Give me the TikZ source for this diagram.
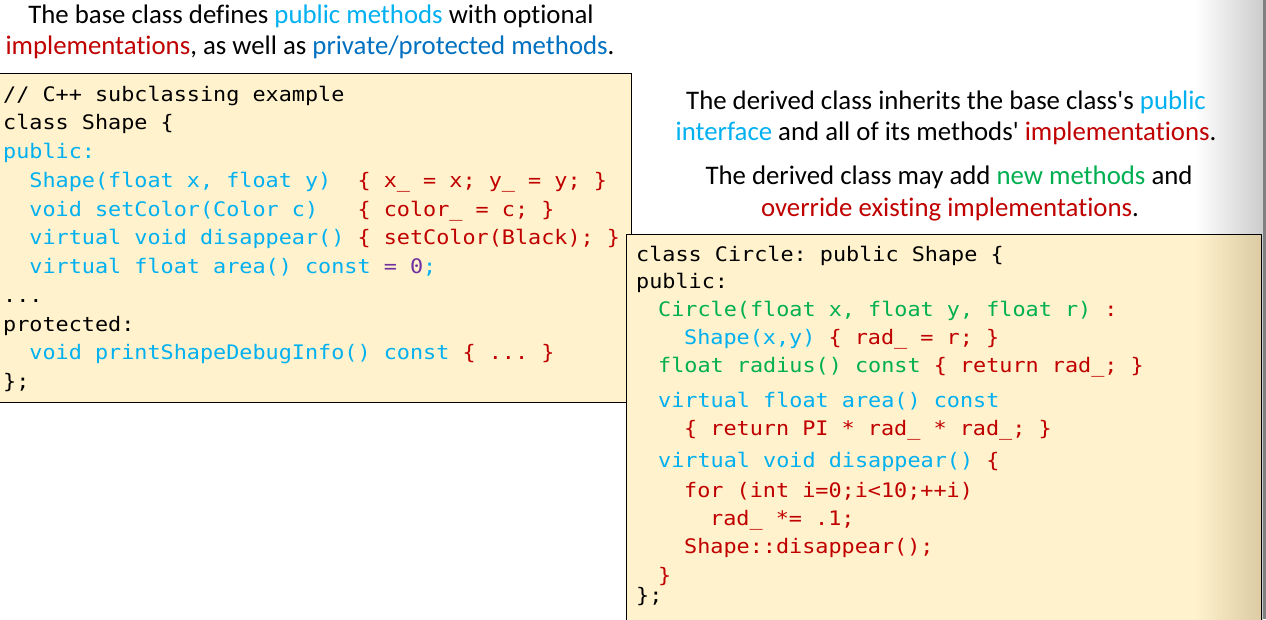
\documentclass[tikz,border=0pt]{standalone}
\usepackage{fontspec}
\newfontfamily\prosefont{Carlito}[Ligatures=NoCommon]
\newfontfamily\codefont{DejaVu Sans Mono}[FakeStretch=1.09]
\definecolor{cyanc}{HTML}{00B0F0}
\definecolor{redc}{HTML}{C00000}
\definecolor{greenc}{HTML}{00B050}
\definecolor{bluec}{HTML}{0070C0}
\definecolor{purplec}{HTML}{7030A0}
\definecolor{codebg}{HTML}{FFF2CC}
\definecolor{codebgdark}{HTML}{DCCBA5}
\tikzset{
  prose/.style={inner sep=0pt, align=center, font=\prosefont\fontsize{26.8}{31}\selectfont\frenchspacing},
  codeline/.style={inner sep=0pt, anchor=base west, font=\codefont\fontsize{20}{24}\selectfont\frenchspacing},
  codebox/.style={draw=black, line width=0.8pt, fill=codebg, rectangle, inner sep=0pt},
}
\begin{document}
\begin{tikzpicture}[x=1pt,y=-1pt]
\useasboundingbox (0,0) rectangle (1266,619);
\clip (0,0) rectangle (1266,619);
\fill[white] (0,0) rectangle (1266,619);
\shade[left color=white, right color=black!20] (1195,0) rectangle (1263,619);
\fill[black!50] (1263,0) rectangle (1266,619);

% prose
\node[prose, anchor=base] (t1) at (311,23) {The base class defines \textcolor{cyanc}{public methods} with optional};
\node[prose, anchor=base] (t2) at (310,54) {\textcolor{redc}{implementations}, as well as \textcolor{bluec}{private/protected methods}.};
\node[prose, anchor=base] (t3) at (946,109) {The derived class inherits the base class's \textcolor{cyanc}{public}};
\node[prose, anchor=base] (t4) at (946,140) {\textcolor{cyanc}{interface} and all of its methods' \textcolor{redc}{implementations}.};
\node[prose, anchor=base] (t5) at (949,184) {The derived class may add \textcolor{greenc}{new methods} and};
\node[prose, anchor=base] (t6) at (950,216) {\textcolor{redc}{override existing implementations}.};

% base class box
\node[codebox, anchor=north west, minimum width=633pt, minimum height=329pt] (basebox) at (-2,73) {};
\node[codeline] (b0) at (3,101) {// C++ subclassing example};
\node[codeline] (b1) at (3,129.75) {class Shape \{};
\node[codeline, text=cyanc] (b2) at (3,158.5) {public:};
\node[codeline, text=cyanc] (b3) at (3,187.25) {~~Shape(float x, float y)~~\textcolor{redc}{\{ x\_ = x; y\_ = y; \}}};
\node[codeline, text=cyanc] (b4) at (3,216) {~~void setColor(Color c)~~~\textcolor{redc}{\{ color\_ = c; \}}};
\node[codeline, text=cyanc] (b5) at (3,244.75) {~~virtual void disappear() \textcolor{redc}{\{ setColor(Black); \}}};
\node[codeline, text=cyanc] (b6) at (3,273.5) {~~virtual float area() const \textcolor{purplec}{= 0};};
\node[codeline] (b7) at (3,302.25) {...};
\node[codeline] (b8) at (3,331) {protected:};
\node[codeline, text=cyanc] (b9) at (3,359.75) {~~void printShapeDebugInfo() const \textcolor{redc}{\{ ... \}}};
\node[codeline] (b10) at (3,388.5) {\};};

% derived class box
\node[codebox, anchor=north west, minimum width=635pt, minimum height=400pt] (derbox) at (626,234) {};
\shade[left color=codebg, right color=codebgdark] (1195,234.4) rectangle (1261,619);
\draw[line width=0.8pt] (derbox.north west) -- (derbox.north east) -- (derbox.south east);
\node[codeline] (d0) at (636,261) {class Circle: public Shape \{};
\node[codeline] (d1) at (636,288) {public:};
\node[codeline, text=greenc] (d2) at (658,316) {Circle(float x, float y, float r) \textcolor{redc}{:}};
\node[codeline, text=cyanc] (d3) at (684,344) {Shape(x,y) \textcolor{redc}{\{ rad\_ = r; \}}};
\node[codeline, text=greenc] (d4) at (658,372) {float radius() const \textcolor{redc}{\{ return rad\_; \}}};
\node[codeline, text=cyanc] (d5) at (658,407) {virtual float area() const};
\node[codeline, text=redc] (d6) at (684,435) {\{ return PI * rad\_ * rad\_; \}};
\node[codeline, text=cyanc] (d7) at (658,467) {virtual void disappear() \textcolor{redc}{\{}};
\node[codeline, text=redc] (d8) at (684,497) {for (int i=0;i<10;++i)};
\node[codeline, text=redc] (d9) at (710,525) {rad\_ *= .1;};
\node[codeline, text=redc] (d10) at (684,553) {Shape::disappear();};
\node[codeline, text=redc] (d11) at (658,582) {\}};
\node[codeline] (d12) at (636,602) {\};};
\end{tikzpicture}
\end{document}
